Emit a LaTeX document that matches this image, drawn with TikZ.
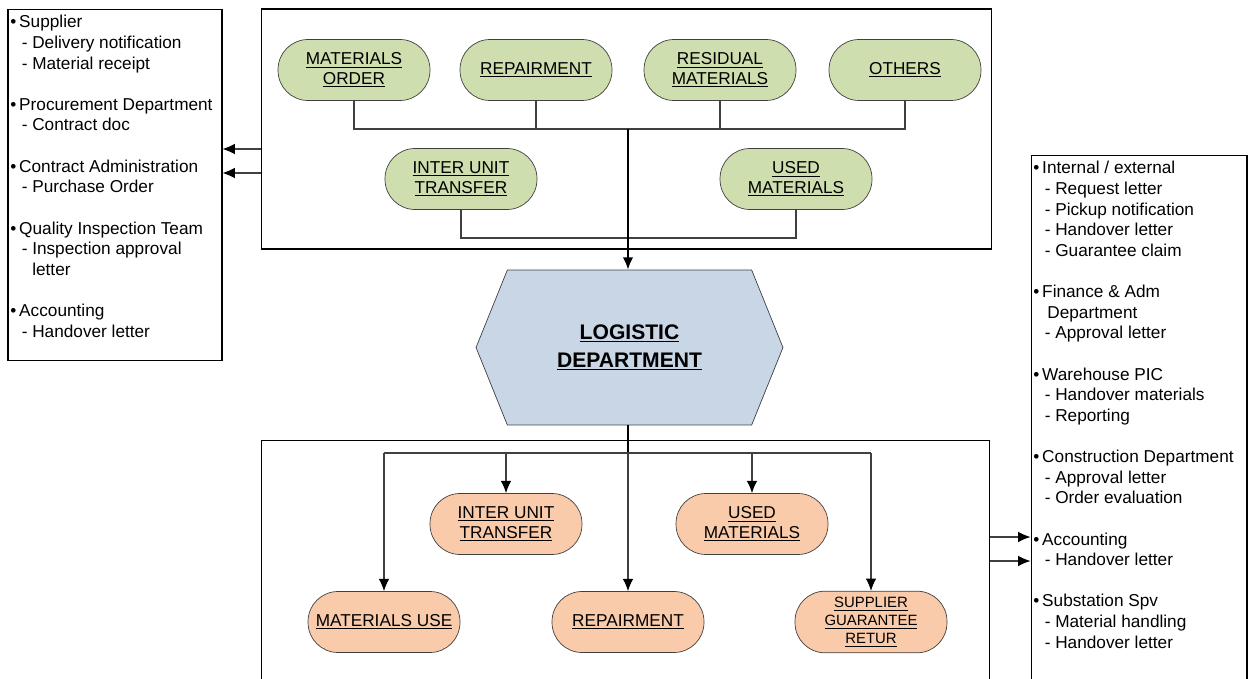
\documentclass[tikz,border=0pt]{standalone}
\usepackage{fontspec}
\setmainfont{Liberation Sans}
\usetikzlibrary{shapes.symbols, arrows.meta}

\definecolor{dgreen}{RGB}{207,222,174}
\definecolor{dorange}{RGB}{250,203,170}
\definecolor{dblue}{RGB}{200,214,230}
\definecolor{dline}{RGB}{64,64,64}

\tikzset{
  greenbox/.style={draw=dline, fill=dgreen, rounded corners=0.6cm, minimum width=3.04cm, minimum height=1.22cm, align=center, font=\fontsize{9.8}{11.3}\selectfont},
  orangebox/.style={greenbox, fill=dorange},
  frame/.style={draw=black, line width=0.6pt},
  conn/.style={draw=dline, line width=0.6pt},
  trunk/.style={draw=black, line width=1.1pt},
  listtext/.style={anchor=north west, align=left, inner sep=0pt, font=\fontsize{9.8}{11.74}\selectfont}
}

\begin{document}
\begin{tikzpicture}[x=0.02cm, y=-0.02cm, >={Latex[length=7pt,width=6pt,color=black]}]
\useasboundingbox (0,0) rectangle (1248,679);
\clip (0,0) rectangle (1248,679);
% frames
\node[frame, minimum width=4.28cm, minimum height=7.04cm] (leftbox) at (115,185) {};
\node[frame, minimum width=14.62cm, minimum height=4.8cm] (topframe) at (626.5,129) {};
\node[frame, minimum width=14.58cm, minimum height=5.2cm] (botframe) at (625.5,570) {};
\node[frame, minimum width=4.32cm, minimum height=10.9cm] (rightbox) at (1139,427.5) {};
% list texts
\node[listtext] (lefttext) at (10,15) {%
\textbullet\,Supplier\\
\hspace*{6.5pt}- Delivery notification\\
\hspace*{6.5pt}- Material receipt\\[11.74pt]
\textbullet\,Procurement Department\\
\hspace*{6.5pt}- Contract doc\\[11.74pt]
\textbullet\,Contract Administration\\
\hspace*{6.5pt}- Purchase Order\\[11.74pt]
\textbullet\,Quality Inspection Team\\
\hspace*{6.5pt}- Inspection approval\\
\hspace*{12.5pt}letter\\[11.74pt]
\textbullet\,Accounting\\
\hspace*{6.5pt}- Handover letter};
\node[listtext] (righttext) at (1033,161) {%
\textbullet\,Internal / external\\
\hspace*{6.5pt}- Request letter\\
\hspace*{6.5pt}- Pickup notification\\
\hspace*{6.5pt}- Handover letter\\
\hspace*{6.5pt}- Guarantee claim\\[11.74pt]
\textbullet\,Finance \& Adm\\
\hspace*{8pt}Department\\
\hspace*{6.5pt}- Approval letter\\[11.74pt]
\textbullet\,Warehouse PIC\\
\hspace*{6.5pt}- Handover materials\\
\hspace*{6.5pt}- Reporting\\[11.74pt]
\textbullet\,Construction Department\\
\hspace*{6.5pt}- Approval letter\\
\hspace*{6.5pt}- Order evaluation\\[11.74pt]
\textbullet\,Accounting\\
\hspace*{6.5pt}- Handover letter\\[11.74pt]
\textbullet\,Substation Spv\\
\hspace*{6.5pt}- Material handling\\
\hspace*{6.5pt}- Handover letter};
% input nodes
\node[greenbox] (mo) at (354,70) {\underline{MATERIALS}\\\underline{ORDER}};
\node[greenbox] (rp) at (536,70) {\underline{REPAIRMENT}};
\node[greenbox] (rm) at (720,70) {\underline{RESIDUAL}\\\underline{MATERIALS}};
\node[greenbox] (ot) at (905,70) {\underline{OTHERS}};
\node[greenbox] (iu) at (461,179) {\underline{INTER UNIT}\\\underline{TRANSFER}};
\node[greenbox] (um) at (796,179) {\underline{USED}\\\underline{MATERIALS}};
% logistic department
\node[draw=dline, fill=dblue, shape=signal, signal to=west and east, signal from=nowhere, signal pointer angle=136, minimum width=6.14cm, minimum height=3.1cm, inner sep=0pt, align=center, font=\bfseries\fontsize{12}{16}\selectfont] (ld) at (629.5,347.5) {\underline{LOGISTIC}\\\underline{DEPARTMENT}};
% output nodes
\node[orangebox] (oiu) at (506,524) {\underline{INTER UNIT}\\\underline{TRANSFER}};
\node[orangebox] (oum) at (752,524) {\underline{USED}\\\underline{MATERIALS}};
\node[orangebox] (omu) at (384,622) {\underline{MATERIALS USE}};
\node[orangebox] (orp) at (628,622) {\underline{REPAIRMENT}};
\node[orangebox, font=\fontsize{8.5}{10.2}\selectfont] (osg) at (871,622) {\underline{SUPPLIER}\\\underline{GUARANTEE}\\\underline{RETUR}};
% joints
\coordinate (tj) at (628,129);
\coordinate (tj2) at (628,238);
\coordinate (bj) at (628,453);
\coordinate (la) at (261,149);
\coordinate (lb) at (261,173);
\coordinate (ra) at (990,537);
\coordinate (rb) at (990,561);
% connectors top
\draw[conn] (mo.south) |- (ot.south |- tj) -- (ot.south);
\draw[conn] (rp.south) -- (rp.south |- tj);
\draw[conn] (rm.south) -- (rm.south |- tj);
\draw[conn] (iu.south) |- (um.south |- tj2) -- (um.south);
\draw[trunk, ->] (tj) -- (tj |- ld.north);
% connectors bottom
\draw[trunk] (bj |- ld.south) -- (bj);
\draw[conn] (omu.north |- bj) -- (osg.north |- bj);
\draw[conn, ->] (omu.north |- bj) -- (omu.north);
\draw[conn, ->] (oiu.north |- bj) -- (oiu.north);
\draw[conn, ->] (bj) -- (orp.north);
\draw[conn, ->] (oum.north |- bj) -- (oum.north);
\draw[conn, ->] (osg.north |- bj) -- (osg.north);
% side arrows
\draw[conn, ->] (la) -- (la -| leftbox.east);
\draw[conn, ->] (lb) -- (lb -| leftbox.east);
\draw[conn, ->] (ra) -- (ra -| rightbox.west);
\draw[conn, ->] (rb) -- (rb -| rightbox.west);
\end{tikzpicture}
\end{document}
